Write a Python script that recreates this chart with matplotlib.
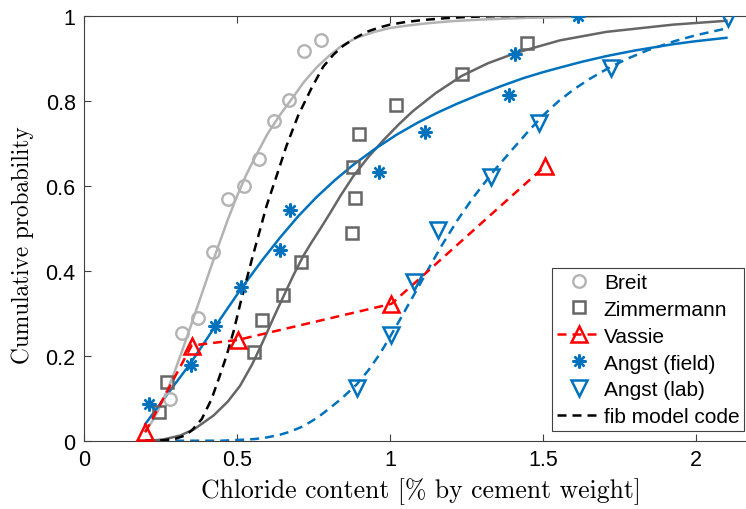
import matplotlib
matplotlib.use("Agg")
import matplotlib.pyplot as plt
from matplotlib.lines import Line2D

plt.rcParams['mathtext.fontset'] = 'cm'
plt.rcParams['font.family'] = ['Liberation Sans', 'DejaVu Sans']

# ---------------- data ----------------
breit_x = [0.281, 0.319, 0.372, 0.421, 0.470, 0.522, 0.572, 0.622, 0.671, 0.719, 0.774]
breit_y = [0.098, 0.253, 0.289, 0.444, 0.569, 0.599, 0.664, 0.753, 0.802, 0.916, 0.944]

zimm_x = [0.246, 0.270, 0.556, 0.581, 0.651, 0.709, 0.876, 0.886, 0.878, 0.899, 1.020, 1.235, 1.447]
zimm_y = [0.068, 0.139, 0.209, 0.285, 0.344, 0.420, 0.489, 0.571, 0.644, 0.722, 0.790, 0.862, 0.936]

vassie_x = [0.200, 0.352, 0.502, 1.005, 1.507]
vassie_y = [0.020, 0.224, 0.237, 0.322, 0.646]

field_x = [0.213, 0.349, 0.428, 0.513, 0.641, 0.675, 0.965, 1.114, 1.390, 1.409, 1.615]
field_y = [0.086, 0.179, 0.269, 0.361, 0.449, 0.543, 0.633, 0.726, 0.814, 0.909, 1.000]

lab_x = [0.893, 1.005, 1.078, 1.158, 1.332, 1.487, 1.724, 2.106]
lab_y = [0.123, 0.249, 0.373, 0.496, 0.620, 0.748, 0.876, 0.994]

# fitted curves
breit_fit_x = [0.20, 0.22, 0.24, 0.26, 0.29, 0.32, 0.35, 0.38, 0.41, 0.44, 0.47, 0.50, 0.53, 0.56,
               0.60, 0.64, 0.68, 0.72, 0.76, 0.80, 0.84, 0.89, 0.95, 1.00, 1.06, 1.12, 1.20, 1.30,
               1.45, 1.60, 1.80, 2.10]
breit_fit_y = [0.022, 0.042, 0.068, 0.098, 0.150, 0.210, 0.272, 0.335, 0.398, 0.460, 0.520, 0.575,
               0.625, 0.668, 0.722, 0.766, 0.805, 0.845, 0.878, 0.905, 0.928, 0.948, 0.962, 0.971,
               0.977, 0.982, 0.987, 0.991, 0.995, 0.997, 0.999, 1.000]

zimm_fit_x = [0.216, 0.26, 0.314, 0.36, 0.423, 0.47, 0.51, 0.55, 0.586, 0.62, 0.651, 0.685, 0.717,
              0.745, 0.771, 0.804, 0.84, 0.88, 0.93, 0.98, 1.03, 1.076, 1.15, 1.234, 1.32, 1.414,
              1.556, 1.708, 1.926, 2.10]
zimm_fit_y = [0.000, 0.003, 0.012, 0.027, 0.059, 0.092, 0.129, 0.180, 0.235, 0.290, 0.338, 0.390,
              0.435, 0.468, 0.497, 0.535, 0.578, 0.622, 0.668, 0.708, 0.745, 0.776, 0.818, 0.858,
              0.888, 0.913, 0.942, 0.962, 0.979, 0.988]

field_fit_x = [0.20, 0.27, 0.346, 0.428, 0.513, 0.586, 0.641, 0.70, 0.76, 0.82, 0.88, 0.95, 1.022,
               1.09, 1.153, 1.22, 1.294, 1.37, 1.436, 1.50, 1.556, 1.63, 1.708, 1.80, 1.926, 2.00, 2.10]
field_fit_y = [0.039, 0.107, 0.180, 0.268, 0.357, 0.428, 0.478, 0.528, 0.573, 0.613, 0.649, 0.686,
               0.720, 0.748, 0.771, 0.793, 0.815, 0.836, 0.853, 0.867, 0.878, 0.892, 0.905, 0.918,
               0.933, 0.940, 0.948]

lab_fit_x = [0.20, 0.45, 0.51, 0.56, 0.60, 0.64, 0.673, 0.71, 0.74, 0.77, 0.804, 0.84, 0.891, 0.93,
             0.967, 1.00, 1.033, 1.065, 1.098, 1.135, 1.17, 1.22, 1.27, 1.34, 1.40, 1.45, 1.50, 1.55,
             1.60, 1.65, 1.72, 1.78, 1.84, 1.93, 2.00, 2.10]
lab_fit_y = [0.000, 0.000, 0.002, 0.004, 0.008, 0.014, 0.021, 0.032, 0.044, 0.058, 0.077, 0.098,
             0.132, 0.166, 0.204, 0.244, 0.285, 0.326, 0.368, 0.416, 0.460, 0.518, 0.570, 0.635,
             0.685, 0.726, 0.765, 0.798, 0.826, 0.850, 0.879, 0.900, 0.918, 0.940, 0.954, 0.970]

fib_x = [0.20, 0.26, 0.30, 0.33, 0.352, 0.385, 0.417, 0.444, 0.466, 0.49, 0.51, 0.53, 0.55, 0.57,
         0.597, 0.63, 0.662, 0.70, 0.744, 0.782, 0.815, 0.847, 0.885, 0.924, 0.96, 1.00, 1.05, 1.11,
         1.18, 1.25, 1.35, 1.50, 2.10]
fib_y = [0.000, 0.001, 0.005, 0.012, 0.024, 0.051, 0.098, 0.153, 0.200, 0.260, 0.320, 0.375, 0.430,
         0.482, 0.553, 0.624, 0.694, 0.765, 0.830, 0.880, 0.908, 0.929, 0.947, 0.962, 0.971, 0.979,
         0.985, 0.990, 0.994, 0.997, 0.999, 1.000, 1.000]

xticks = [0, 0.5, 1, 1.5, 2]
xtick_labels = ['0', '0.5', '1', '1.5', '2']
yticks = [0, 0.2, 0.4, 0.6, 0.8, 1]
ytick_labels = ['0', '0.2', '0.4', '0.6', '0.8', '1']

# ---------------- styles ----------------
LGRAY = '#b3b3b3'
DGRAY = '#666666'
BLUE = '#0072bd'
RED = '#ff0000'
LW = 1.8
DASH = (0, (3.6, 2.4))

W, H = 746, 510
fig = plt.figure(figsize=(W / 100, H / 100), dpi=100)
ax = fig.add_axes([84 / W, (H - 441.7) / H, 673 / W, 425 / H])

# fitted curves
ax.plot(breit_fit_x, breit_fit_y, color=LGRAY, lw=LW, zorder=2)
ax.plot(zimm_fit_x, zimm_fit_y, color=DGRAY, lw=LW, zorder=2)
ax.plot(field_fit_x, field_fit_y, color=BLUE, lw=LW, zorder=2)
ax.plot(lab_fit_x, lab_fit_y, color=BLUE, lw=LW, ls=DASH, zorder=2)
ax.plot(fib_x, fib_y, color='black', lw=LW, ls=DASH, zorder=2)

# data
mk_breit = dict(ls='none', marker='o', ms=9, mfc='none', mec=LGRAY, mew=1.7)
mk_zimm = dict(ls='none', marker='s', ms=9, mfc='none', mec=DGRAY, mew=1.8)
mk_vassie = dict(color=RED, lw=LW, ls=DASH, marker='^', ms=12, mfc='none', mec=RED, mew=1.8)
mk_field = dict(ls='none', marker=(8, 2, 0), ms=10, mec=BLUE, mew=1.7)
mk_lab = dict(ls='none', marker='v', ms=12, mfc='none', mec=BLUE, mew=1.8)

ax.plot(breit_x, breit_y, zorder=3, **mk_breit)
ax.plot(zimm_x, zimm_y, zorder=3, **mk_zimm)
ax.plot(vassie_x, vassie_y, zorder=3, **mk_vassie)
ax.plot(field_x, field_y, zorder=3, **mk_field)
ax.plot(lab_x, lab_y, zorder=3, **mk_lab)

ax.set_xlim(0, 2.2)
ax.set_ylim(0, 1)
ax.set_xticks(xticks)
ax.set_xticklabels(xtick_labels)
ax.set_yticks(yticks)
ax.set_yticklabels(ytick_labels)
ax.tick_params(direction='in', length=5, width=0.8, color='#404040', labelsize=15.5,
               top=True, right=True, pad=6)
for s in ax.spines.values():
    s.set_color('#404040')
    s.set_linewidth(0.8)

ax.set_xlabel('Chloride content [% by cement weight]', fontfamily='cmr10', fontsize=18.5, labelpad=5)
ax.set_ylabel('Cumulative probability', fontfamily='cmr10', fontsize=16.8)
ax.yaxis.set_label_coords(-50 / 673, (441.7 - 245) / 425)

handles = [
    Line2D([], [], **mk_breit),
    Line2D([], [], **mk_zimm),
    Line2D([], [], **mk_vassie),
    Line2D([], [], **mk_field),
    Line2D([], [], **mk_lab),
    Line2D([], [], color='black', lw=LW, ls=DASH),
]
labels = ['Breit', 'Zimmermann', 'Vassie', 'Angst (field)', 'Angst (lab)', 'fib model code']
leg = fig.legend(handles, labels, loc='lower right', bbox_to_anchor=(744 / W, (H - 432) / H),
                 fontsize=15, frameon=True, fancybox=False, edgecolor='#404040',
                 handlelength=2.1, handletextpad=0.15, labelspacing=0.38, borderpad=0.22,
                 borderaxespad=0, framealpha=1)
leg.get_frame().set_linewidth(0.8)

fig.savefig('out.png', dpi=100)
